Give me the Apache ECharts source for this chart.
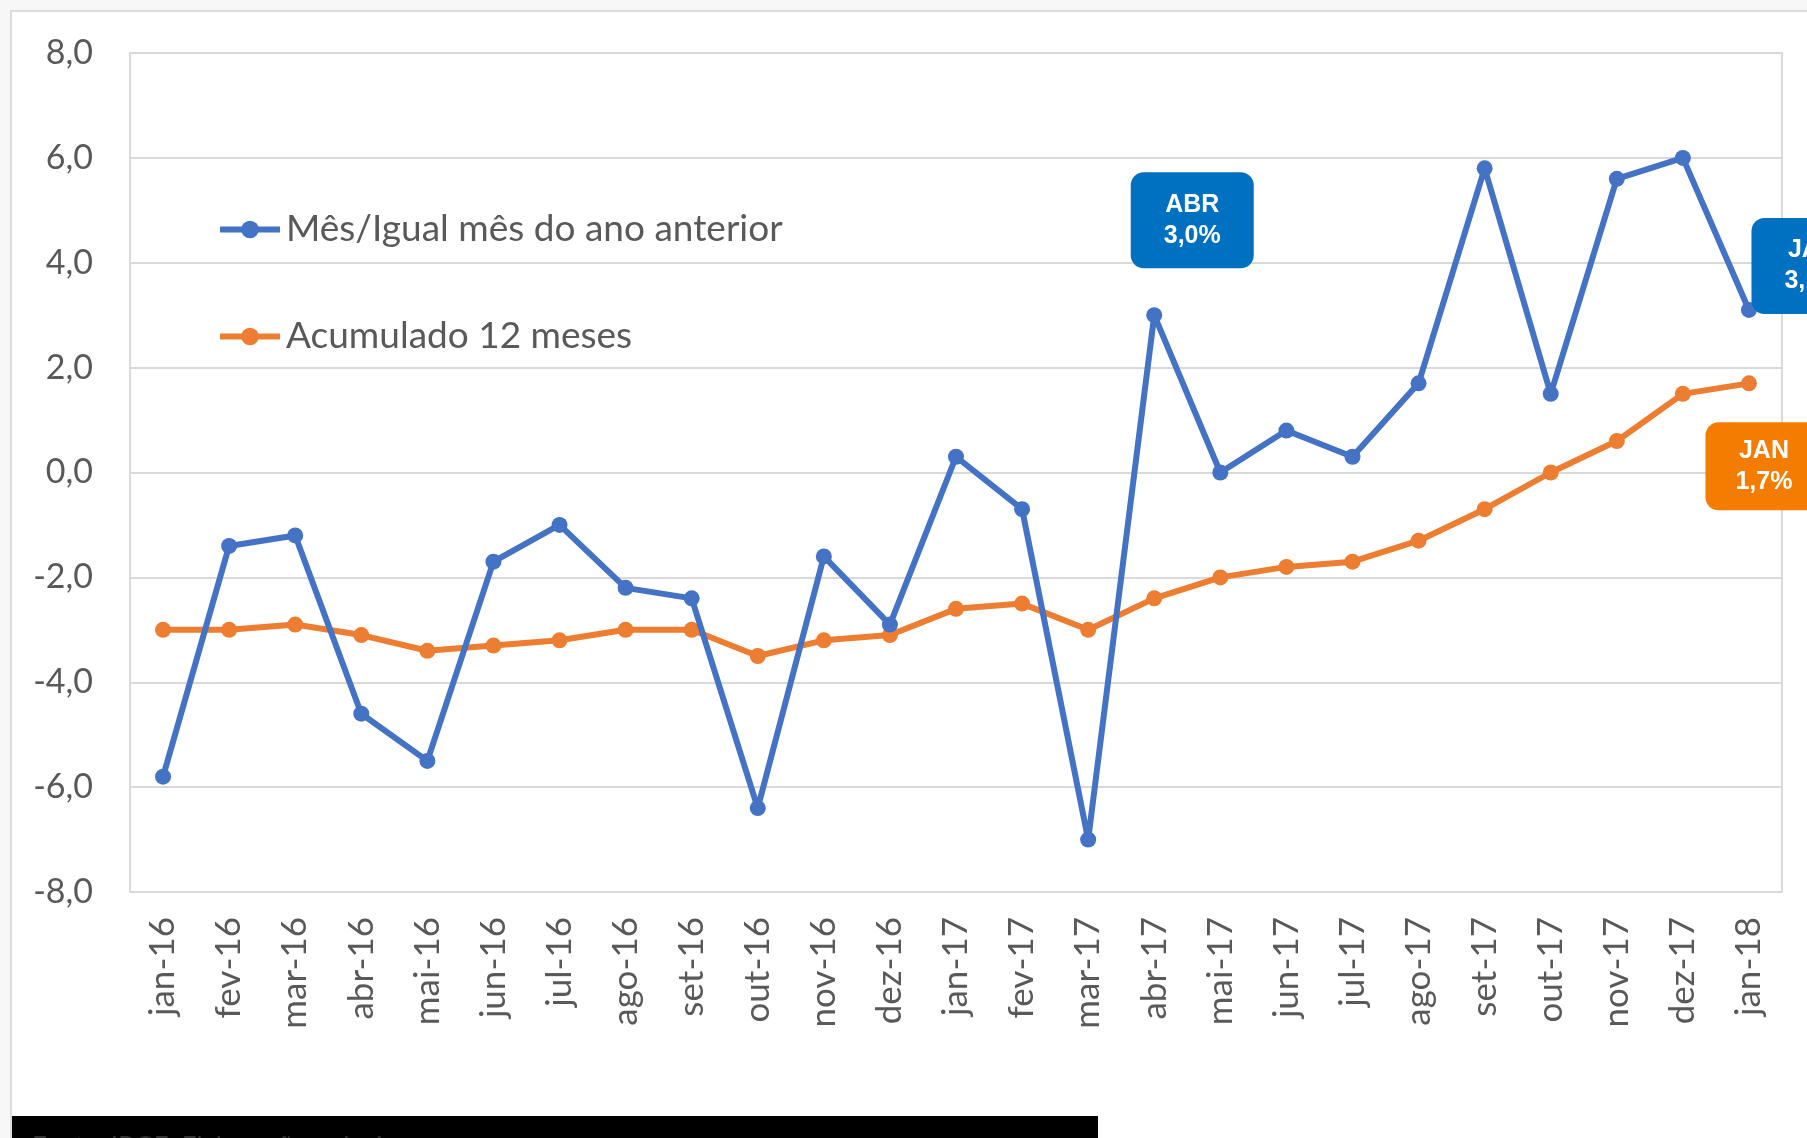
<!DOCTYPE html>
<html>
<head>
<meta charset="utf-8">
<title>Mês / Acumulado 12 meses</title>
<script src="https://cdn.jsdelivr.net/npm/echarts@6/dist/echarts.min.js"></script>
<style>
  html, body { margin: 0; padding: 0; background: #f7f7f7; }
  #chart { width: 1807px; height: 1138px; }
</style>
</head>
<body>
<div id="chart"></div>
<script>
// categorias (meses)
const months = ['jan-16', 'fev-16', 'mar-16', 'abr-16', 'mai-16', 'jun-16', 'jul-16', 'ago-16', 'set-16',
  'out-16', 'nov-16', 'dez-16', 'jan-17', 'fev-17', 'mar-17', 'abr-17', 'mai-17', 'jun-17', 'jul-17',
  'ago-17', 'set-17', 'out-17', 'nov-17', 'dez-17', 'jan-18'];

// Mês/Igual mês do ano anterior
const mesAnoAnterior = [-5.8, -1.4, -1.2, -4.6, -5.5, -1.7, -1.0, -2.2, -2.4, -6.4, -1.6, -2.9,
  0.3, -0.7, -7.0, 3.0, 0.0, 0.8, 0.3, 1.7, 5.8, 1.5, 5.6, 6.0, 3.1];

// Acumulado 12 meses
const acumulado12 = [-3.0, -3.0, -2.9, -3.1, -3.4, -3.3, -3.2, -3.0, -3.0, -3.5, -3.2, -3.1,
  -2.6, -2.5, -3.0, -2.4, -2.0, -1.8, -1.7, -1.3, -0.7, 0.0, 0.6, 1.5, 1.7];

const seriesNames = ['Mês/Igual mês do ano anterior', 'Acumulado 12 meses'];

// caixas de destaque
const calloutsBlue = { 15: 'ABR\n3,0%', 24: 'JAN\n3,1%' };
const calloutsOrange = { 24: 'JAN\n1,7%' };

const BLUE = '#4472C4';
const ORANGE = '#ED7D31';
const GRID = '#d9d9d9';
const TXT = '#595959';
const FONT = 'Lato, "Open Sans", sans-serif';

function boxLabel(text, color, pos, offset) {
  return {
    show: true,
    formatter: text,
    position: pos,
    offset: offset,
    color: '#fff',
    fontFamily: '"Liberation Sans", Arial, sans-serif',
    fontWeight: 'bold',
    fontSize: 25,
    lineHeight: 31,
    align: 'center',
    backgroundColor: color,
    borderRadius: 13,
    padding: [17, 33, 17, 33]
  };
}

const blueData = mesAnoAnterior.map(function (v, i) {
  if (i === 15) return { value: v, label: boxLabel(calloutsBlue[i], '#0070C0', 'top', [38, -34]) };
  if (i === 24) return { value: v, label: boxLabel(calloutsBlue[i], '#0070C0', 'top', [64, 17]) };
  return v;
});
const orangeData = acumulado12.map(function (v, i) {
  if (i === 24) {
    const l = boxLabel(calloutsOrange[i], '#F47C00', 'bottom', [15, 26]);
    l.padding = [13, 30, 13, 30];
    return { value: v, label: l };
  }
  return v;
});

const chart = echarts.init(document.getElementById('chart'));
chart.setOption({
  animation: false,
  textStyle: { fontFamily: FONT },
  graphic: [
    {
      type: 'rect', z: -100, silent: true,
      shape: { x: 11, y: 11, width: 1900, height: 1200 },
      style: { fill: '#ffffff', stroke: '#dcdcdc', lineWidth: 2 }
    },
    {
      type: 'rect', z: 100, silent: true,
      shape: { x: 12, y: 1116, width: 1086, height: 30 },
      style: { fill: '#000000' }
    },
    {
      type: 'text', z: 101, silent: true,
      x: 32, y: 1135,
      style: { text: 'Fonte: IBGE. Elaboração própria.', fill: '#333333', font: '26px ' + FONT }
    }
  ],
  grid: {
    left: 130, right: 25, top: 53, bottom: 246,
    show: true, borderColor: GRID, borderWidth: 2, backgroundColor: 'transparent'
  },
  legend: {
    orient: 'vertical',
    left: 217, top: 211, padding: 0,
    itemWidth: 60, itemHeight: 22, itemGap: 70,
    lineStyle: { width: 6 },
    textStyle: { fontFamily: FONT, fontSize: 37, color: TXT, padding: [0, 0, 0, 1] },
    data: seriesNames
  },
  xAxis: {
    type: 'category',
    data: months,
    boundaryGap: true,
    axisTick: { show: false },
    axisLine: { lineStyle: { color: GRID, width: 2 } },
    axisLabel: { rotate: 90, margin: 25, fontSize: 35, color: TXT, fontFamily: FONT }
  },
  yAxis: {
    type: 'value',
    min: -8, max: 8, interval: 2,
    axisLine: { show: false },
    axisTick: { show: false },
    splitLine: { lineStyle: { color: GRID, width: 2 } },
    axisLabel: {
      margin: 37, fontSize: 34, color: TXT, fontFamily: FONT,
      formatter: function (v) { return v.toFixed(1).replace('.', ','); }
    }
  },
  series: [
    {
      name: seriesNames[0],
      type: 'line',
      data: blueData,
      symbol: 'circle', symbolSize: 16,
      lineStyle: { color: BLUE, width: 6 },
      itemStyle: { color: BLUE },
      z: 3
    },
    {
      name: seriesNames[1],
      type: 'line',
      data: orangeData,
      symbol: 'circle', symbolSize: 16,
      lineStyle: { color: ORANGE, width: 6 },
      itemStyle: { color: ORANGE },
      z: 2
    }
  ]
});
</script>
</body>
</html>
